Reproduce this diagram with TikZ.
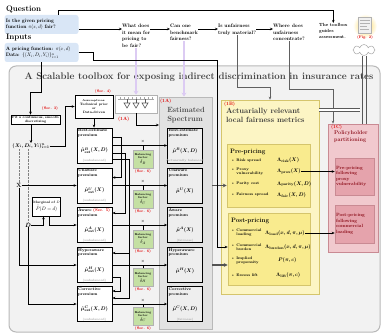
\RequirePackage{fix-cm}
\documentclass[tikz,border=0pt]{standalone}
\usepackage{amsmath}
\usetikzlibrary{positioning,shapes.symbols,arrows.meta}

\definecolor{qblue}{HTML}{D9E6F6}
\definecolor{boxgray}{HTML}{F2F2F2}
\definecolor{specgray}{HTML}{E2E2E2}
\definecolor{palyellow}{HTML}{FCF5C4}
\definecolor{metyellow}{HTML}{F9EB8E}
\definecolor{metedge}{HTML}{D5C56C}
\definecolor{palpink}{HTML}{F1C9CE}
\definecolor{deeppink}{HTML}{E5A3AC}
\definecolor{pinkedge}{HTML}{C98A93}
\definecolor{darkred}{HTML}{8A0A16}
\definecolor{secred}{HTML}{E00000}
\definecolor{balgreen}{HTML}{C4E0A3}
\definecolor{lavender}{HTML}{DCCBF3}

\begin{document}
\begin{tikzpicture}
    [%%%%%%%%%%%%%%%%%%%%%%%%%%%%%%
    x=2pt, y=-2pt,
    head/.style={anchor=west,inner sep=0pt,font=\fontsize{16}{16}\selectfont\bfseries},
    qbox/.style={rectangle,rounded corners=5pt,fill=qblue,minimum height=38,inner sep=3pt,text width=142,align=left,font=\fontsize{10}{12.4}\selectfont\bfseries},
    ask/.style={anchor=north west,inner sep=0pt,align=left,font=\fontsize{10}{13.4}\selectfont\bfseries},
    arr/.style={-{Stealth[length=6pt,width=5pt]},line width=1pt},
    garr/.style={arr,draw=gray!75!black},
    purp/.style={-{Stealth[length=8pt,width=10pt]},draw=lavender,line width=3.6pt},
    sarr/.style={-{Stealth[length=8pt,width=8pt]},draw=gray!65!black,line width=2.8pt},
    fat/.style={draw=gray!70!black,double=white,double distance=4.8pt,line width=1pt},
    sec/.style={text=secred,inner sep=0pt,font=\fontsize{7.6}{8}\selectfont\bfseries},
    tag/.style={text=secred,anchor=west,inner sep=0pt,font=\fontsize{9.6}{10}\selectfont\bfseries},
    tool/.style={rectangle,rounded corners=14pt,draw=gray!55,line width=2pt,fill=boxgray},
    small/.style={rectangle,draw=black,line width=1.4pt,fill=white,inner sep=2pt,align=center,font=\fontsize{6.6}{7.8}\selectfont\bfseries},
    prem/.style={rectangle,draw=black,line width=1.6pt,fill=white,minimum width=70,minimum height=70,inner sep=0pt},
    sprem/.style={prem,fill=gray!13},
    ptitle/.style={anchor=north west,inner sep=3pt,align=left,font=\fontsize{8}{9}\selectfont\bfseries},
    pform/.style={inner sep=0pt,font=\fontsize{10.4}{12}\selectfont\boldmath},
    pnote/.style={anchor=south,inner sep=1.5pt,text=gray!70,font=\fontsize{6}{7}\selectfont\bfseries},
    bal/.style={rectangle,draw=gray!60,fill=balgreen,minimum width=40,minimum height=36,inner sep=1pt,align=center,font=\fontsize{5.6}{6.4}\selectfont\bfseries},
    spec/.style={rectangle,draw=gray!55,line width=1.6pt,fill=specgray},
    met/.style={rectangle,draw=metedge,line width=1.2pt,fill=palyellow},
    metin/.style={rectangle,draw=metedge,line width=1.2pt,fill=metyellow},
    mhead/.style={anchor=west,inner sep=0pt,font=\fontsize{12.8}{13}\selectfont\bfseries},
    mitem/.style={anchor=west,inner sep=0pt,align=left,font=\fontsize{7.4}{8.2}\selectfont\bfseries},
    mform/.style={anchor=west,inner sep=0pt,font=\fontsize{10.4}{11}\selectfont\boldmath},
    part/.style={rectangle,draw=pinkedge,line width=1.2pt,fill=palpink},
    partin/.style={rectangle,draw=pinkedge,line width=1.2pt,fill=deeppink,text width=74,align=left,inner sep=2pt,text=darkred,font=\fontsize{9.2}{11}\selectfont\bfseries},
    ]%%%%%%%%%%%%%%%%%%%%%%%%%%%%%%

    \useasboundingbox (0,0) rectangle (383,334);

    % toolbox frame
    \node[tool,minimum width=742,minimum height=532] at (194.5,199) (toolbox) {};
    \node[inner sep=0pt,text=black!75,font=\fontsize{19.2}{20}\selectfont\bfseries] at (199,77) (tooltitle) {A Scalable toolbox for exposing indirect discrimination in insurance rates};

    % question and inputs
    \node[head] at (6,9) (question) {Question};
    \node[qbox] at (41.5,24.5) (qbox) {Is the given pricing\\function $\pi(x,d)$ fair?};
    \node[head] at (6,38) (inputs) {Inputs};
    \node[qbox] at (41.5,52.5) (inbox) {A pricing function: $\pi(x,d)$\\Data: $\{(X_i,D_i,Y_i)\}_{i=1}^{n}$};

    \node[ask] at (122,24) (whatfair) {What does\\it mean for\\pricing to\\be fair?};
    \node[ask] at (170,24) (bench) {Can one\\benchmark\\fairness?};
    \node[ask] at (218,24) (material) {Is unfairness\\truly material?};
    \node[ask] at (273,24) (concentrate) {Where does\\unfairness\\concentrate?};
    \node[ask,font=\fontsize{9}{12.6}\selectfont\bfseries] at (319,23) (guides) {The toolbox\\guides\\assessment.};

    \coordinate (qrow) at (0,29);
    \draw[arr] (qbox.east |- qrow) -- (whatfair.west |- qrow);
    \draw[arr] (whatfair.east |- qrow) -- (bench.west |- qrow);
    \draw[arr] (bench.east |- qrow) -- (material.west |- qrow);
    \draw[arr] (material.east |- qrow) -- (concentrate.west |- qrow);
    \draw[arr] ([xshift=-40pt]qbox.north east) -- ++(0,-5) -| (guides.north);

    % figure 2
    \shade[inner color=orange!45!yellow!70,outer color=white] (365,26) circle (12);
    \node[draw=gray!60,fill=gray!12,minimum width=26,minimum height=32,inner sep=0pt] at (365,25) (fig2doc) {};
    \draw[gray!60,line width=1.2pt] (360,20) -- (370,20) (360,23) -- (370,23) (360,26) -- (367,26) (360,29) -- (369,29);
    \node[sec] at (365,38) (fig2lab) {(Fig. 2)};
    \node[cloud,draw=gray!70,fill=white,line width=1pt,cloud puffs=8,minimum width=44,minimum height=22,inner sep=0pt] at (364,50) (hands) {};

    % estimated spectrum
    \node[spec,minimum width=106,minimum height=464] at (185.5,213) (spectrum) {};
    \node[inner sep=0pt,align=left,text=gray!55!black,font=\fontsize{15}{17}\selectfont\bfseries] at (186,115) (spectitle) {Estimated\\Spectrum};
    \node[tag] at (160,101) (tagA) {(1A)};

    \node[draw=gray!60,line width=1pt,fill=white,minimum width=84,minimum height=36,inner sep=0pt] at (136,104) (specimg) {};
    \draw[gray!70,line width=1.2pt] (118,99) -- (154,99);
    \foreach \t in {120,124,...,152} \draw[gray!70,line width=0.8pt] (\t,97.5) -- (\t,100.5);
    \foreach \d in {127,136,145} {
        \draw[gray!70!black,line width=1.2pt] (\d,99) -- (\d,103);
        \draw[gray!70!black,line width=1.2pt] (\d-3,103) -- (\d,108) -- (\d+3,103) -- cycle;
    }
    \node[tag] at (118,119) (tagimg) {(1A)};
    \coordinate (specin) at (159,125);
    \draw[arr] (specimg.south) |- (specin);

    \draw[purp] (whatfair.south -| specimg.north) -- (specimg.north);
    \draw[purp] (bench.south) -- (bench.south |- spectrum.north);

    % fitting and data
    \node[small] at (35.5,119.5) (fit) {Fit a continuous, smooth\\discretizing};
    \node[sec] at (50,109) (sec3) {(Sec. 3)};
    \node[inner sep=0pt,font=\fontsize{10.4}{12}\selectfont\boldmath] at (31,146) (data) {$(X_i, D_i, Y_i)_{i=1}^n$};
    \draw[arr] (inbox.south) -- ++(0,30) -| ([xshift=-10pt]fit.north);
    \draw[arr] (fit.south -| data.north) -- (data.north);

    \node[small,minimum width=76,minimum height=46] at (94,106.5) (assump) {{\fontsize{5.2}{6}\selectfont Assumptions:}\\Technical prior\\or\\Data-driven};
    \node[sec] at (103,92) (sec4) {(Sec. 4)};
    \draw[arr] (data.east) -- ++(16,0) |- (assump.west);

    \node[inner sep=0pt,font=\fontsize{12}{12}\selectfont\bfseries] at (19,185.5) (X) {X};
    \node[inner sep=0pt,font=\fontsize{12}{12}\selectfont\boldmath] at (28,225) (D) {$D$};
    \draw[dotted,gray,line width=0.8pt] (data.south -| X) -- (X);
    \draw[dotted,gray,line width=0.8pt] (data.south -| D) -- (D);

    \node[small,minimum width=48,minimum height=38] at (46.5,206.5) (marg) {Marginal of $D$\\[1pt]{\fontsize{10}{10}\selectfont$\hat{P}(D=d)$}};

    % premiums
    \node[prem] at (94.5,145.5) (best) {};
    \node[ptitle] at (best.north west) (bestT) {Best-estimate\\premium};
    \node[pform] at (94.5,150.5) (bestF) {$\hat{\mu}^{B}_{\mathrm{est}}(X,D)$};
    \node[pnote] at (best.south) (bestN) {(unbalanced)};

    \node[prem] at (94.5,185.5) (unaware) {};
    \node[ptitle] at (unaware.north west) (unawareT) {Unaware\\premium};
    \node[pform] at (94.5,190.5) (unawareF) {$\hat{\mu}^{U}_{\mathrm{est}}(X)$};
    \node[pnote] at (unaware.south) (unawareN) {(unbalanced)};

    \node[prem] at (94.5,225) (aware) {};
    \node[ptitle] at (aware.north west) (awareT) {Aware {\color{secred}(Sec. 5)}\\premium};
    \node[pform] at (94.5,230) (awareF) {$\hat{\mu}^{A}_{\mathrm{est}}(X)$};
    \node[pnote] at (aware.south) (awareN) {(unbalanced)};

    \node[prem] at (94.5,265) (hyper) {};
    \node[ptitle] at (hyper.north west) (hyperT) {Hyperaware\\premium};
    \node[pform] at (94.5,270) (hyperF) {$\hat{\mu}^{H}_{\mathrm{est}}(X)$};
    \node[pnote] at (hyper.south) (hyperN) {(unbalanced)};

    \node[prem] at (94.5,304) (corr) {};
    \node[ptitle] at (corr.north west) (corrT) {Corrective\\premium};
    \node[pform] at (94.5,309) (corrF) {$\hat{\mu}^{C}_{\mathrm{est}}(X,D)$};
    \node[pnote] at (corr.south) (corrN) {(unbalanced)};

    \draw[arr] (assump.south) -- (assump.south |- best.north);
    \draw[arr] (X) -- (unaware);
    \draw[arr] (X) |- (hyper);
    \draw[arr] (D) |- (corr);
    \draw[arr] (D) -| ([xshift=-6pt]marg.south);
    \draw[arr] ([xshift=6pt]marg.south) |- (aware.west);

    \draw[arr] ([yshift=16pt]best.east) -- ++(9,0) |- ([yshift=16pt]unaware.east);
    \draw[arr] ([yshift=-16pt]best.east) -- ++(13,0) |- ([yshift=24pt]aware.east);
    \draw[arr] ([yshift=-28pt]best.east) -- ++(17,0) |- ([yshift=24pt]hyper.east);
    \draw[arr] ([yshift=-28pt]best.east) -- ++(17,0) |- ([yshift=12pt]corr.east);
    \draw[arr] ([yshift=-24pt]hyper.east) -- ++(8,0) |- ([yshift=26pt]corr.east);

    % balancing factors
    \node[bal] at (143,159) (dB) {Balancing\\factor\\[2pt]{\fontsize{10}{10}\selectfont$\delta_B$}};
    \node[bal] at (143,199) (dU) {Balancing\\factor\\[2pt]{\fontsize{10}{10}\selectfont$\delta_U$}};
    \node[bal] at (143,239) (dA) {Balancing\\factor\\[2pt]{\fontsize{10}{10}\selectfont$\delta_A$}};
    \node[bal] at (143,277.5) (dH) {Balancing\\factor\\[2pt]{\fontsize{10}{10}\selectfont$\delta_H$}};
    \node[bal] at (143,316.5) (dC) {Balancing\\factor\\[2pt]{\fontsize{10}{10}\selectfont$\delta_C$}};
    \node[sec] at (143,171.5) (sec6B) {(Sec. 6)};
    \node[sec] at (143,211.5) (sec6U) {(Sec. 6)};
    \node[sec] at (143,251.5) (sec6A) {(Sec. 6)};
    \node[sec] at (143,290) (sec6H) {(Sec. 6)};
    \node[sec] at (143,329) (sec6C) {(Sec. 6)};

    % estimated premiums
    \node[sprem] at (185,145.5) (sbest) {};
    \node[ptitle] at (sbest.north west) (sbestT) {Best-estimate\\premium};
    \node[pform] at (185,150.5) (sbestF) {$\hat{\mu}^{B}(X,D)$};
    \node[pnote] at (sbest.south) (sbestN) {Actuarially balanced};

    \node[sprem] at (185,185.5) (sunaware) {};
    \node[ptitle] at (sunaware.north west) (sunawareT) {Unaware\\premium};
    \node[pform] at (185,191) (sunawareF) {$\hat{\mu}^{U}(X)$};

    \node[sprem] at (185,225) (saware) {};
    \node[ptitle] at (saware.north west) (sawareT) {Aware\\premium};
    \node[pform] at (185,230) (sawareF) {$\hat{\mu}^{A}(X)$};
    \node[pnote] at (saware.south) (sawareN) {(fairness)};

    \node[sprem] at (185,265) (shyper) {};
    \node[ptitle] at (shyper.north west) (shyperT) {Hyperaware\\premium};
    \node[pform] at (185,270.5) (shyperF) {$\hat{\mu}^{H}(X)$};

    \node[sprem] at (185,304) (scorr) {};
    \node[ptitle] at (scorr.north west) (scorrT) {Corrective\\premium};
    \node[pform] at (185,309) (scorrF) {$\hat{\mu}^{C}(X,D)$};
    \node[pnote] at (scorr.south) (scorrN) {(fairness)};

    \draw[arr] (best) -- (sbest);
    \draw[arr] (unaware) -- (sunaware);
    \draw[arr] (aware) -- (saware);
    \draw[arr] (hyper) -- (shyper);
    \draw[arr] (corr) -- (scorr);
    \draw[line width=1pt] (dB.north) -- (dB.north |- best);
    \draw[line width=1pt] (dU.north) -- (dU.north |- unaware);
    \draw[line width=1pt] (dA.north) -- (dA.north |- aware);
    \draw[line width=1pt] (dH.north) -- (dH.north |- hyper);
    \draw[line width=1pt] (dC.north) -- (dC.north |- corr);
    \node[inner sep=0pt,font=\fontsize{8}{8}\selectfont] at (143,141.5) (mB) {$\boldsymbol{\times}$};
    \node[inner sep=0pt,font=\fontsize{8}{8}\selectfont] at (143,181.5) (mU) {$\boldsymbol{\times}$};
    \node[inner sep=0pt,font=\fontsize{8}{8}\selectfont] at (143,221) (mA) {$\boldsymbol{\times}$};
    \node[inner sep=0pt,font=\fontsize{8}{8}\selectfont] at (143,261) (mH) {$\boldsymbol{\times}$};
    \node[inner sep=0pt,font=\fontsize{8}{8}\selectfont] at (143,300) (mC) {$\boldsymbol{\times}$};

    % local fairness metrics
    \node[met,minimum width=196,minimum height=388] at (270,197) (metrics) {};
    \node[tag] at (224,104) (tagB) {(1B)};
    \node[anchor=north west,inner sep=0pt,align=left,text=black!80,font=\fontsize{15.2}{17.4}\selectfont\bfseries] at (226,108) (metT) {Actuarially relevant\\local fairness metrics};

    \node[metin,minimum width=166,minimum height=126] at (268.5,175.5) (pre) {};
    \node[mhead] at (230,152) (preT) {Pre-pricing};
    \node[mitem] at (231,160.5) (lriskT) {\textbullet\ Risk spread};
    \node[mform] at (277,160.5) (lriskF) {$\Lambda_{\mathrm{risk}}(X)$};
    \node[mitem] at (231,171.5) (lproxT) {\textbullet\ Proxy\\\phantom{\textbullet\ }vulnerability};
    \node[mform] at (277,171.5) (lproxF) {$\Lambda_{\mathrm{prox}}(X)$};
    \node[mitem] at (231,184) (lparT) {\textbullet\ Parity cost};
    \node[mform] at (277,184) (lparF) {$\Lambda_{\mathrm{parity}}(X,D)$};
    \node[mitem] at (231,195) (lfairT) {\textbullet\ Fairness spread};
    \node[mform] at (277,195) (lfairF) {$\Lambda_{\mathrm{fair}}(X,D)$};

    \node[metin,minimum width=164,minimum height=144] at (269,249) (post) {};
    \node[mhead] at (231,221) (postT) {Post-pricing};
    \node[mitem] at (231,233) (lloadT) {\textbullet\ Commercial\\\phantom{\textbullet\ }loading};
    \node[mform] at (265,233) (lloadF) {$\Lambda_{\mathrm{load}}(x,d,\pi,\mu)$};
    \node[mitem] at (231,247) (lburdenT) {\textbullet\ Commercial\\\phantom{\textbullet\ }burden};
    \node[mform] at (265,247) (lburdenF) {$\Lambda_{\mathrm{burden}}(x,d,\pi,\mu)$};
    \node[mitem] at (231,260.5) (lpropT) {\textbullet\ Implied\\\phantom{\textbullet\ }propensity};
    \node[mform] at (278,260.5) (lpropF) {$P(\pi,c)$};
    \node[mitem] at (231,275) (lliftT) {\textbullet\ Excess lift};
    \node[mform] at (276,275) (lliftF) {$\Lambda_{\mathrm{lift}}(\pi,c)$};

    \draw[sarr] (sunaware -| spectrum.east) -- (sunaware -| pre.west);
    \draw[sarr] (shyper -| spectrum.east) -- (shyper -| post.west);
    \draw[arr] (inbox.east) -- ++(15,0) |- (217,60) |- (post.west |- lburdenT);

    % policyholder partitioning
    \node[part,minimum width=100,minimum height=256] at (353,188) (partition) {};
    \node[tag] at (331,127.5) (tagC) {(1C)};
    \node[anchor=north west,inner sep=0pt,align=left,text=darkred,font=\fontsize{11}{13.6}\selectfont\bfseries] at (334,131) (partT) {Policyholder\\partitioning};
    \node[partin,minimum height=74] at (354.5,176.5) (pink1) {Pre-pricing\\following\\proxy\\vulnerability};
    \node[partin,minimum height=76] at (354.5,224) (pink2) {Post-pricing\\following\\commercial\\loading};

    \draw[arr] (lproxF.east) -- (lproxF.east -| pink1.west);
    \draw[arr] (lloadF.east) -- (lloadF.east -| pink2.west);

    % links from the questions
    \draw[garr] (material.south) -- ++(0,52) -| (metrics.north);
    \draw[garr] (concentrate.south) -- ++(0,48) -| ([xshift=-40pt]partition.north);
    \draw[gray!70!black,line width=1.2pt] ([xshift=-4pt]hands.south) -- ([xshift=-4pt]hands.south |- partition.north);
    \draw[gray!70!black,line width=1.2pt] ([xshift=4pt]hands.south) -- ([xshift=4pt]hands.south |- partition.north);
    \coordinate (fatend) at (360,110);
    \draw[fat] (metrics.east |- fatend) -- (fatend);
\end{tikzpicture}
\end{document}
